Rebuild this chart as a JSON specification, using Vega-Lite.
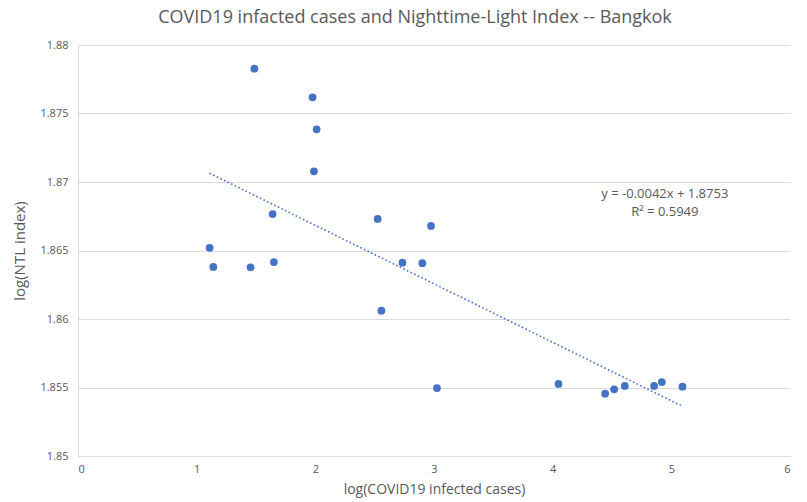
{
  "$schema": "https://vega.github.io/schema/vega-lite/v6.json",
  "width": 712,
  "height": 411,
  "autosize": {"type": "none"},
  "padding": {"left": 78, "top": 45, "right": 17, "bottom": 46},
  "background": "white",
  "title": {
    "text": "COVID19 infacted cases and Nighttime-Light Index -- Bangkok",
    "font": "Open Sans",
    "fontSize": 18,
    "fontWeight": "normal",
    "color": "#595959",
    "anchor": "middle",
    "dx": -19,
    "offset": 12
  },
  "config": {
    "view": {"stroke": null},
    "font": "Open Sans"
  },
  "datasets": {
    "points": [
      {"cases": 1.486, "ntl": 1.87827},
      {"cases": 1.977, "ntl": 1.87618},
      {"cases": 2.011, "ntl": 1.87385},
      {"cases": 1.988, "ntl": 1.87078},
      {"cases": 1.640, "ntl": 1.86766},
      {"cases": 2.525, "ntl": 1.8673},
      {"cases": 2.975, "ntl": 1.86679},
      {"cases": 1.109, "ntl": 1.8652},
      {"cases": 1.140, "ntl": 1.8638},
      {"cases": 1.454, "ntl": 1.86377},
      {"cases": 1.651, "ntl": 1.86416},
      {"cases": 2.734, "ntl": 1.86411},
      {"cases": 2.902, "ntl": 1.86407},
      {"cases": 2.557, "ntl": 1.86061},
      {"cases": 3.025, "ntl": 1.85496},
      {"cases": 4.049, "ntl": 1.85526},
      {"cases": 4.442, "ntl": 1.85455},
      {"cases": 4.518, "ntl": 1.85487},
      {"cases": 4.608, "ntl": 1.85511},
      {"cases": 4.855, "ntl": 1.85511},
      {"cases": 4.920, "ntl": 1.8554},
      {"cases": 5.094, "ntl": 1.85506}
    ],
    "trend": [
      {"cases": 1.109, "ntl": 1.87064},
      {"cases": 5.089, "ntl": 1.85365}
    ],
    "notes": [
      {"label": "y = -0.0042x + 1.8753", "cases": 4.945, "ntl": 1.86912},
      {"label": "R² = 0.5949", "cases": 4.945, "ntl": 1.86781}
    ]
  },
  "layer": [
    {
      "data": {"name": "trend"},
      "mark": {"type": "line", "color": "#4472C4", "strokeWidth": 1.6, "strokeDash": [1.6, 2.4]},
      "encoding": {
        "x": {
          "field": "cases", "type": "quantitative",
          "scale": {"domain": [0, 6], "nice": false, "zero": false},
          "axis": {
            "title": "log(COVID19 infected cases)",
            "titleFont": "Open Sans", "titleFontSize": 14, "titleFontWeight": "normal", "titleColor": "#595959",
            "titlePadding": 8,
            "values": [0, 1, 2, 3, 4, 5, 6],
            "format": "d",
            "labelFont": "Open Sans", "labelFontSize": 11, "labelColor": "#595959", "labelPadding": 7,
            "ticks": false, "grid": false, "domainColor": "#d9d9d9", "domainWidth": 1
          }
        },
        "y": {
          "field": "ntl", "type": "quantitative",
          "scale": {"domain": [1.85, 1.88], "nice": false, "zero": false},
          "axis": {
            "title": "log(NTL index)",
            "titleFont": "Open Sans", "titleFontSize": 15, "titleFontWeight": "normal", "titleColor": "#595959",
            "titlePadding": 12,
            "values": [1.85, 1.855, 1.86, 1.865, 1.87, 1.875, 1.88],
            "format": "~g",
            "labelFont": "Open Sans", "labelFontSize": 11, "labelColor": "#595959", "labelPadding": 10,
            "ticks": false, "grid": true, "gridColor": "#d9d9d9", "gridWidth": 1,
            "domainColor": "#d9d9d9", "domainWidth": 1
          }
        }
      }
    },
    {
      "data": {"name": "points"},
      "mark": {"type": "circle", "color": "#4472C4", "opacity": 1, "size": 60},
      "encoding": {
        "x": {"field": "cases", "type": "quantitative"},
        "y": {"field": "ntl", "type": "quantitative"}
      }
    },
    {
      "data": {"name": "notes"},
      "mark": {"type": "text", "font": "Open Sans", "fontSize": 13, "color": "#595959", "align": "center", "baseline": "middle"},
      "encoding": {
        "x": {"field": "cases", "type": "quantitative"},
        "y": {"field": "ntl", "type": "quantitative"},
        "text": {"field": "label"}
      }
    }
  ]
}
